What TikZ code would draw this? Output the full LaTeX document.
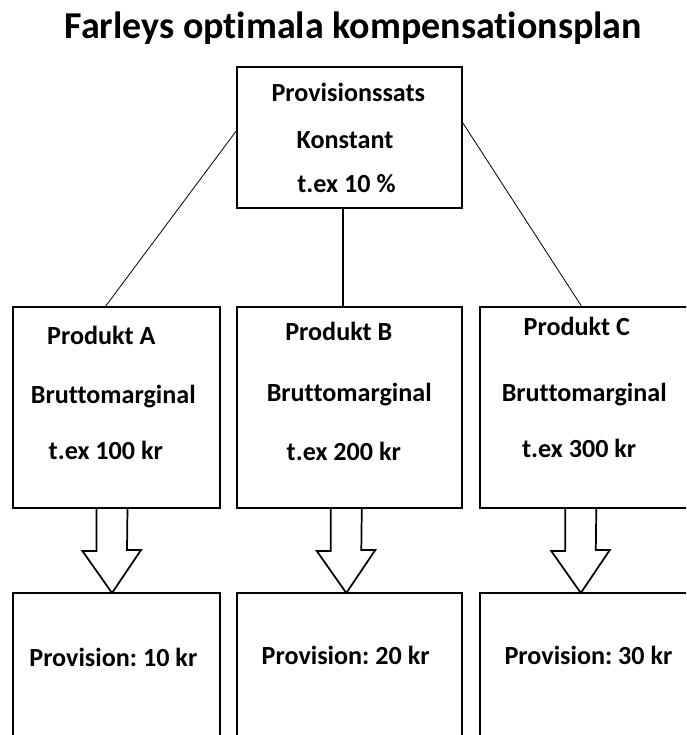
\documentclass[tikz,border=0pt]{standalone}
\usepackage{fontspec}
\setmainfont{Carlito}[Ligatures=NoCommon]
\usetikzlibrary{calc}
\begin{document}
\frenchspacing
\begin{tikzpicture}[x=0.75pt,y=-0.75pt,
  box/.style={draw, line width=1.5pt, inner sep=0pt, outer sep=0pt},
  topbox/.style={box, minimum width=168.75pt, minimum height=105.375pt},
  wide/.style={box, minimum width=168.75pt, minimum height=150.75pt},
  narrow/.style={box, minimum width=155.625pt, minimum height=150.75pt},
  cbox/.style={box, minimum width=165.375pt, minimum height=150.75pt},
  pwide/.style={box, minimum width=168.75pt, minimum height=125.25pt},
  pnarrow/.style={box, minimum width=155.625pt, minimum height=125.25pt},
  pc/.style={box, minimum width=165.375pt, minimum height=125.25pt},
  lbl/.style={inner sep=0pt, anchor=base, font=\fontsize{19.6pt}{21pt}\selectfont\bfseries},
  ttl/.style={inner sep=0pt, anchor=base, font=\fontsize{28.5pt}{30pt}\selectfont\bfseries},
  link/.style={line width=0.6pt},
  vlink/.style={line width=1.3pt},
  blk/.style={draw, line width=1.3pt, line join=miter}
]
\clip (0,0) rectangle (686,735);
\fill[white] (0,0) rectangle (686,735);

\node[ttl] (title) at (353.3,38.3) {Farleys optimala kompensationsplan};

% top box
\node[topbox] (top) at (349.5,137.25) {};
\node[lbl] (t1) at (348.3,101.7) {Provisionssats};
\node[lbl] (t2) at (345,148.3) {Konstant};
\node[lbl] (t3) at (346.5,192.7) {t.ex 10 \%};

% product boxes
\node[narrow] (pa) at (116.25,407.5) {};
\node[wide] (pb) at (349.5,407.5) {};
\node[cbox] (pc) at (589.75,407.5) {};

\node[lbl] (a1) at (101.3,344) {Produkt A};
\node[lbl] (a2) at (113.3,403) {Bruttomarginal};
\node[lbl] (a3) at (105.8,459) {t.ex 100 kr};

\node[lbl] (b1) at (338.8,340) {Produkt B};
\node[lbl] (b2) at (349.2,401.7) {Bruttomarginal};
\node[lbl] (b3) at (343.8,460) {t.ex 200 kr};

\node[lbl] (c1) at (576.8,335) {Produkt C};
\node[lbl] (c2) at (584.2,401.7) {Bruttomarginal};
\node[lbl] (c3) at (579.2,457) {t.ex 300 kr};

% provision boxes
\node[pnarrow] (qa) at (116.25,676.5) {};
\node[pwide] (qb) at (349.5,676.5) {};
\node[pc] (qc) at (589.75,676.5) {};

\node[lbl] (qa1) at (113.3,666) {Provision: 10 kr};
\node[lbl] (qb1) at (345.6,664) {Provision: 20 kr};
\node[lbl] (qc1) at (588.5,664) {Provision: 30 kr};

% connectors
\draw[link] ($(top.north west)!0.448!(top.south west)$) -- ($(pa.north west)!0.446!(pa.north east)$);
\draw[link] ($(top.north east)!0.389!(top.south east)$) -- ($(pc.north west)!0.465!(pc.north east)$);
\draw[vlink] ($(top.south west)!0.472!(top.south east)$) -- ($(pb.north west)!0.472!(pb.north east)$);

% block arrows
\newcommand\blkarrow[3]{%
  \draw[blk] ($(#2.south west)+(#1-15.5,0)$) -- ++(0,43) -- ++(-14,0)
    -- ($(#3.north west)+(#1,0)$) -- ++(29,-43) -- ++(-14,0)
    -- ($(#2.south west)+(#1+15.5,0)$);}
\blkarrow{99.5}{pa}{qa}
\blkarrow{109.3}{pb}{qb}
\blkarrow{101.3}{pc}{qc}
\end{tikzpicture}
\end{document}
